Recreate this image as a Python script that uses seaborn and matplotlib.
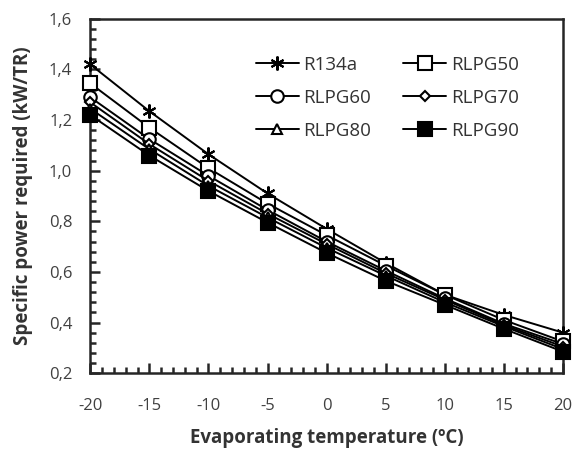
import numpy as np
import pandas as pd
import seaborn as sns
import matplotlib.pyplot as plt
from matplotlib.ticker import MultipleLocator, FuncFormatter

# evaporating temperature (C)
temps = [-20, -15, -10, -5, 0, 5, 10, 15, 20]

# specific power required (kW/TR)
r134a = [1.42, 1.235, 1.065, 0.91, 0.77, 0.635, 0.51, 0.43, 0.36]
rlpg50 = [1.345, 1.17, 1.01, 0.87, 0.745, 0.625, 0.51, 0.41, 0.325]
rlpg60 = [1.29, 1.125, 0.98, 0.845, 0.72, 0.605, 0.495, 0.395, 0.315]
rlpg70 = [1.27, 1.105, 0.96, 0.83, 0.71, 0.595, 0.49, 0.39, 0.305]
rlpg80 = [1.245, 1.085, 0.94, 0.815, 0.695, 0.585, 0.48, 0.385, 0.295]
rlpg90 = [1.22, 1.06, 0.92, 0.795, 0.675, 0.565, 0.47, 0.375, 0.285]

names = ["R134a", "RLPG50", "RLPG60", "RLPG70", "RLPG80", "RLPG90"]
series = [r134a, rlpg50, rlpg60, rlpg70, rlpg80, rlpg90]

# marker styles per series
markers = [(6, 2, 0), "s", "o", "D", "^", "s"]
msizes = [10, 10, 9, 5.5, 7.5, 10]
faces = ["black", "white", "white", "white", "white", "black"]

df = pd.DataFrame({
    "temp": temps * len(names),
    "power": sum(series, []),
    "fluid": np.repeat(names, len(temps)),
})

sns.set_style("ticks")
plt.rcParams["font.family"] = ["Open Sans", "DejaVu Sans"]
plt.rcParams["axes.unicode_minus"] = False

fig = plt.figure(figsize=(5.75, 4.49), dpi=100)
ax = fig.add_axes([0.157, 0.169, 0.822, 0.789])

for i, name in enumerate(names):
    sns.lineplot(data=df[df["fluid"] == name], x="temp", y="power", ax=ax,
                 color="black", lw=1.4, marker=markers[i], ms=msizes[i],
                 mfc=faces[i], mec="black", mew=1.5, label=name, clip_on=False,
                 zorder=3 + i)

ax.set_xlim(-20, 20)
ax.set_ylim(0.2, 1.6)
ax.xaxis.set_major_locator(MultipleLocator(5))
ax.xaxis.set_minor_locator(MultipleLocator(1))
ax.yaxis.set_major_locator(MultipleLocator(0.2))
ax.yaxis.set_minor_locator(MultipleLocator(0.04))
ax.yaxis.set_major_formatter(FuncFormatter(lambda v, p: f"{v:.1f}".replace(".", ",")))

ax.tick_params(which="major", direction="in", length=7, width=1.8,
               labelsize=12, labelcolor="#404040")
ax.tick_params(axis="x", which="major", pad=18)
ax.tick_params(axis="y", which="major", pad=13)
ax.tick_params(which="minor", direction="in", length=4, width=1.8)
for s in ax.spines.values():
    s.set_linewidth(1.8)
    s.set_visible(True)

ax.set_xlabel("Evaporating temperature (ºC)", fontsize=13.5, fontweight="bold",
              color="#333333", labelpad=10)
ax.set_ylabel("Specific power required (kW/TR)", fontsize=13.5, fontweight="bold",
              color="#333333", labelpad=11)

# legend filled row by row: R134a/RLPG50, RLPG60/RLPG70, RLPG80/RLPG90
h, l = ax.get_legend_handles_labels()
order = [0, 2, 4, 1, 3, 5]
ax.legend([h[k] for k in order], [l[k] for k in order], ncol=2,
          loc="upper left", bbox_to_anchor=(0.35, 0.895), frameon=False,
          borderaxespad=0, borderpad=0, fontsize=13.5, handlelength=2.3,
          columnspacing=1.7, labelspacing=0.8, handletextpad=0.25,
          labelcolor="#333333")

fig.savefig("out.png", dpi=100)
